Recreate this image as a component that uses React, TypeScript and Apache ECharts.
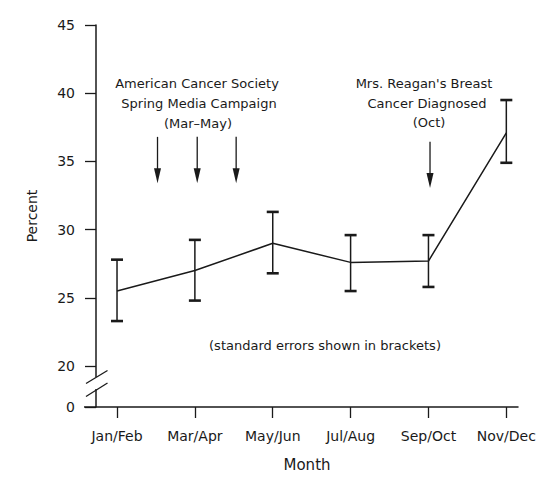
import React, { useEffect, useRef } from "react";
import * as echarts from "echarts";

const categories = ["Jan/Feb", "Mar/Apr", "May/Jun", "Jul/Aug", "Sep/Oct", "Nov/Dec"];
const percent = [25.5, 27.0, 29.0, 27.6, 27.7, 37.1];
const upperSE = [27.8, 29.25, 31.3, 29.6, 29.6, 39.5];
const lowerSE = [23.3, 24.8, 26.8, 25.5, 25.8, 34.9];
const yTickValues = [17, 20, 25, 30, 35, 40, 45];
const yTickLabels = ["0", "20", "25", "30", "35", "40", "45"];
// annotation arrows: [x position (category index), top value, bottom value]
const campaignArrows = [
  [0.52, 36.8, 33.4],
  [1.03, 36.8, 33.4],
  [1.53, 36.8, 33.4],
  [4.02, 36.45, 33.05],
];

const FONT = "DejaVu Sans";
const INK = "#1a1a1a";

export default function App() {
  const ref = useRef<HTMLDivElement>(null);
  useEffect(() => {
    if (!ref.current) return;
    const chart = echarts.init(ref.current, null, { renderer: "svg" });
    const option: any = {
      animation: false,
      backgroundColor: "#ffffff",
      grid: { left: 96, right: 26, top: 25, bottom: 75 },
      xAxis: {
        type: "value",
        min: -0.27,
        max: 5.15,
        name: "Month",
        nameLocation: "middle",
        nameGap: 50,
        nameTextStyle: { fontFamily: FONT, fontSize: 15, color: INK },
        axisLine: { show: true, onZero: false, lineStyle: { color: INK, width: 1.5 } },
        axisTick: { show: true, length: 11, customValues: [0, 1, 2, 3, 4, 5], lineStyle: { color: INK, width: 1.3 } },
        axisLabel: {
          customValues: [0, 1, 2, 3, 4, 5],
          margin: 22,
          fontFamily: FONT,
          fontSize: 14,
          color: INK,
          formatter: (v: number) => categories[Math.round(v)] ?? "",
        },
        splitLine: { show: false },
      },
      yAxis: {
        type: "value",
        min: 17,
        max: 45,
        name: "Percent",
        nameLocation: "middle",
        nameGap: 57,
        nameRotate: 90,
        nameTextStyle: { fontFamily: FONT, fontSize: 14, color: INK },
        axisLine: { show: true, onZero: false, lineStyle: { color: INK, width: 1.5 } },
        axisTick: { show: true, length: 11, customValues: yTickValues, lineStyle: { color: INK, width: 1.3 } },
        axisLabel: {
          customValues: yTickValues,
          margin: 21,
          fontFamily: FONT,
          fontSize: 14,
          color: INK,
          formatter: (v: number) => {
            const i = yTickValues.indexOf(v);
            return i >= 0 ? yTickLabels[i] : "";
          },
        },
        splitLine: { show: false },
      },
      series: [
        {
          type: "line",
          data: percent.map((v, i) => [i, v]),
          symbol: "none",
          lineStyle: { color: INK, width: 1.5 },
          z: 3,
        },
        {
          type: "custom",
          data: categories.map((_, i) => [i, lowerSE[i], upperSE[i]]),
          renderItem: (params: any, api: any) => {
            const x = api.value(0);
            const lo = api.coord([x, api.value(1)]);
            const hi = api.coord([x, api.value(2)]);
            const hw = 6;
            return {
              type: "group",
              children: [
                { type: "line", shape: { x1: lo[0], y1: lo[1], x2: hi[0], y2: hi[1] }, style: { stroke: INK, lineWidth: 1.5 } },
                { type: "line", shape: { x1: lo[0] - hw, y1: lo[1], x2: lo[0] + hw, y2: lo[1] }, style: { stroke: INK, lineWidth: 2.6 } },
                { type: "line", shape: { x1: hi[0] - hw, y1: hi[1], x2: hi[0] + hw, y2: hi[1] }, style: { stroke: INK, lineWidth: 2.6 } },
              ],
            };
          },
          z: 4,
        },
        {
          type: "custom",
          data: campaignArrows,
          renderItem: (params: any, api: any) => {
            const x = api.value(0);
            const top = api.coord([x, api.value(1)]);
            const bot = api.coord([x, api.value(2)]);
            const headLen = 15;
            const hw = 3.5;
            return {
              type: "group",
              children: [
                { type: "line", shape: { x1: top[0], y1: top[1], x2: bot[0], y2: bot[1] - headLen + 2 }, style: { stroke: INK, lineWidth: 1.3 } },
                {
                  type: "polygon",
                  shape: { points: [[bot[0] - hw, bot[1] - headLen], [bot[0] + hw, bot[1] - headLen], [bot[0], bot[1]]] },
                  style: { fill: INK },
                },
              ],
            };
          },
          z: 4,
        },
      ],
      graphic: [
        // axis break
        { type: "rect", shape: { x: 93, y: 377, width: 6, height: 12 }, style: { fill: "#ffffff" }, z: 100 },
        { type: "line", shape: { x1: 86, y1: 383.5, x2: 107.5, y2: 370.5 }, style: { stroke: INK, lineWidth: 1.3 }, z: 101 },
        { type: "line", shape: { x1: 86, y1: 396.5, x2: 107.5, y2: 383 }, style: { stroke: INK, lineWidth: 1.3 }, z: 101 },
        // x axis extension to the left
        { type: "line", shape: { x1: 84, y1: 407, x2: 96, y2: 407 }, style: { stroke: INK, lineWidth: 1.5 }, z: 101 },
        // annotations
        { type: "text", x: 197, y: 83, style: { text: "American Cancer Society", font: `13px "${FONT}"`, fill: INK, textAlign: "center", textVerticalAlign: "middle" } },
        { type: "text", x: 199, y: 103, style: { text: "Spring Media Campaign", font: `13px "${FONT}"`, fill: INK, textAlign: "center", textVerticalAlign: "middle" } },
        { type: "text", x: 198, y: 123, style: { text: "(Mar\u2013May)", font: `13px "${FONT}"`, fill: INK, textAlign: "center", textVerticalAlign: "middle" } },
        { type: "text", x: 424, y: 83, style: { text: "Mrs. Reagan's Breast", font: `13px "${FONT}"`, fill: INK, textAlign: "center", textVerticalAlign: "middle" } },
        { type: "text", x: 427, y: 103, style: { text: "Cancer Diagnosed", font: `13px "${FONT}"`, fill: INK, textAlign: "center", textVerticalAlign: "middle" } },
        { type: "text", x: 429, y: 122, style: { text: "(Oct)", font: `13px "${FONT}"`, fill: INK, textAlign: "center", textVerticalAlign: "middle" } },
        { type: "text", x: 325, y: 345, style: { text: "(standard errors shown in brackets)", font: `13px "${FONT}"`, fill: INK, textAlign: "center", textVerticalAlign: "middle" } },
      ],
    };
    chart.setOption(option);
    return () => chart.dispose();
  }, []);
  return <div ref={ref} style={{ position: "fixed", left: 0, top: 0, width: 544, height: 482 }} />;
}
